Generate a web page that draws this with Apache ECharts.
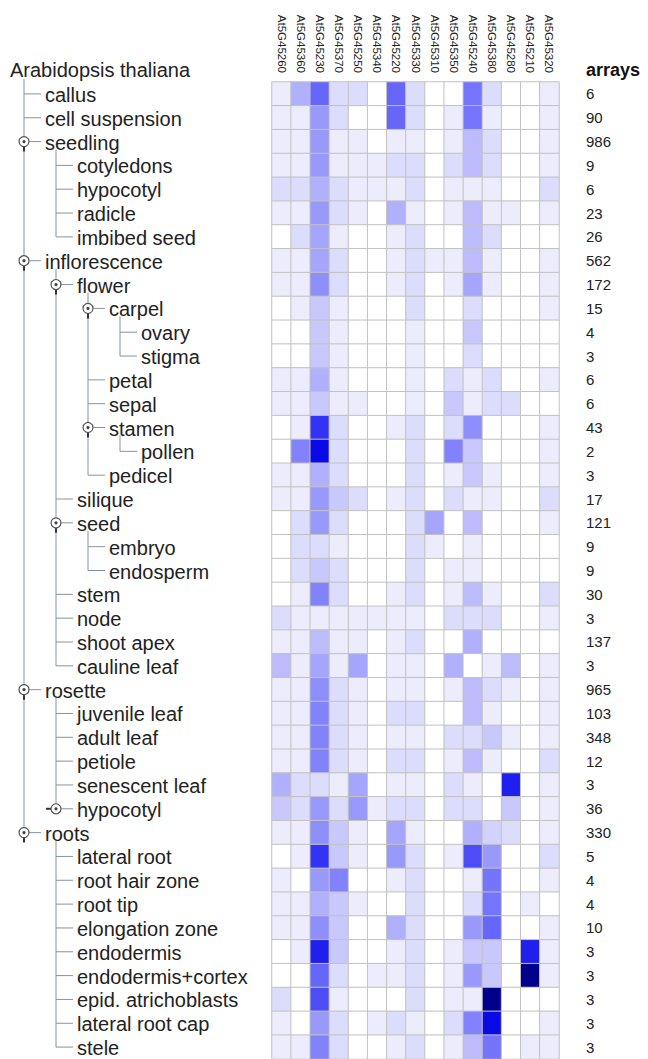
<!DOCTYPE html>
<html>
<head>
<meta charset="utf-8">
<script src="https://cdn.jsdelivr.net/npm/echarts@6/dist/echarts.min.js"></script>
<style>
html,body{margin:0;padding:0;background:#fff;}
#chart{width:648px;height:1059px;}
</style>
</head>
<body>
<div id="chart"></div>
<script>
const genes = ['At5G45260','At5G45360','At5G45230','At5G45370','At5G45250','At5G45340','At5G45220','At5G45330','At5G45310','At5G45350','At5G45240','At5G45380','At5G45280','At5G45210','At5G45320'];

const tissues = ['callus','cell suspension','seedling','cotyledons','hypocotyl','radicle','imbibed seed','inflorescence','flower','carpel','ovary','stigma','petal','sepal','stamen','pollen','pedicel','silique','seed','embryo','endosperm','stem','node','shoot apex','cauline leaf','rosette','juvenile leaf','adult leaf','petiole','senescent leaf','hypocotyl','roots','lateral root','root hair zone','root tip','elongation zone','endodermis','endodermis+cortex','epid. atrichoblasts','lateral root cap','stele'];

const depths = [1,1,1,2,2,2,2,1,2,3,4,4,3,3,3,4,3,2,2,3,3,2,2,2,2,1,2,2,2,2,2,1,2,2,2,2,2,2,2,2,2];

// 1 = expanded node icon, 2 = collapsed node icon
const nodeIcons = [0,0,1,0,0,0,0,1,1,1,0,0,0,0,1,0,0,0,1,0,0,0,0,0,0,1,0,0,0,0,2,1,0,0,0,0,0,0,0,0,0];

const arrays = [6,90,986,9,6,23,26,562,172,15,4,3,6,6,43,2,3,17,121,9,9,30,3,137,3,965,103,348,12,3,36,330,5,4,4,10,3,3,3,3,3];

// relative expression level per tissue (rows) and gene (columns), 0 = none, 10 = highest
const levels = [
  [1,4,7,2,2,0,7,2,0,0,6.5,2,0,0,1],
  [1,1,5,2,0,0,7,2,0,1,6.5,1,0,0,1],
  [1,1,5,1,1,0,1,1,0,1,3.5,2,0,0,1],
  [1,1,5,1,1,1,2,2,0,2,3.5,2,0,0,1],
  [2,2,4,2,1,1,1,2,0,1,1,1,0,0,2],
  [1,1,5,2,1,0,4,1,0,1,3.5,1,1,0,1],
  [0,2,4.5,1,0,0,1,2,0,0,3.5,2,0,0,0],
  [1,1,4.5,2,0,0,1,2,1,1,3.5,1,0,0,1],
  [1,1,5.5,2,0,0,1,2,0,1,4.5,1,0,0,1],
  [0,1,3,1,0,0,0,2,0,0,2,0,0,0,1],
  [0,0,3,1,0,0,0,1,0,0,3,0,0,0,0],
  [0,0,3,1,0,0,0,1,0,0,2,0,0,0,0],
  [1,1,4,1,0,0,0,1,0,2,1,2,0,0,1],
  [1,1,3,1,1,0,0,1,0,3,1,2,2,0,0],
  [0,1,8,2,0,0,1,2,0,2,5.5,0,0,0,1],
  [0,6,9,2,0,0,0,2,0,6,3,0,0,0,1],
  [1,1,4,2,0,0,0,2,0,1,3,1,0,0,1],
  [1,1,5,3,2,0,1,2,0,2,1,1,0,0,2],
  [0,2,5,2,0,0,0,2,4.5,0,3.5,0,0,0,1],
  [0,2,2,1,0,0,0,2,1,0,1,0,0,0,0],
  [0,2,3,2,0,0,0,2,0,1,1,0,0,0,0],
  [0,1,6,2,0,0,1,2,0,1,3.5,1,0,0,2],
  [2,1,1,1,1,1,1,1,0,2,2,2,0,0,1],
  [1,1,3.5,1,1,0,1,2,0,0,4,0,0,0,0],
  [3.5,1,4.5,1,4.5,0,1,1,0,4,0,1,3.5,0,1],
  [1,1,5.5,2,1,0,1,1,0,1,3.5,2,1,0,1],
  [1,1,6,2,1,0,2,2,0,0,3.5,1,0,0,1],
  [1,1,6,2,1,0,1,1,0,2,2,3,1,0,1],
  [1,1,6,2,1,0,2,2,0,1,3.5,1,0,0,2],
  [4,2,2,1,4.5,0,1,1,0,2,1,0,8.5,0,1],
  [3,2,5,2,5,1,2,2,0,2,2,0,3,0,1],
  [1,1,5.5,3,1,0,4.5,1,0,0,4,2.5,2,0,1],
  [0,1,8,3,1,0,5,2,0,1,7.5,5,0,0,2],
  [1,0,5,6,0,0,1,2,0,0,1,6.5,0,0,1],
  [1,1,4,3,1,0,0,2,0,0,2,6.5,0,1,0],
  [1,1,5.5,3,0,0,4,2,0,0,5,7,0,0,1],
  [0,1,8.5,3,0,0,1,2,0,1,3,3,0,8.5,1],
  [0,0,7,2,0,1,1,2,0,1,5,3,0,10,1],
  [2,0,7.5,1,0,0,0,2,0,1,1,10,0,0,0],
  [1,0,5,2,0,1,2,1,0,2,6,9,0,0,1],
  [1,1,6,2,0,0,1,2,0,1,3.5,6.5,0,1,1]
];

const rootName = 'Arabidopsis thaliana';
const arraysHeader = 'arrays';

const heatData = [];
levels.forEach((row, r) => row.forEach((v, c) => heatData.push([c, r, v])));

const FONT = '"Liberation Sans", Arial, sans-serif';
const LINE = '#8593a1';

function lineX(d) { return 24 + (d - 1) * 32; }

function renderTree(params, api) {
  const i = params.dataIndex;
  const d = depths[i];
  const y = api.coord([0, i])[1];
  const h = api.size([0, 1])[1];
  const x = lineX(d);
  const els = [];
  if (i === 0) {
    let last = 0;
    depths.forEach((dd, j) => { if (dd === 1) last = j; });
    els.push({type:'line', shape:{x1:x, y1:y - h / 2 - 3, x2:x, y2:api.coord([0, last])[1]}, style:{stroke:LINE, lineWidth:1}});
  }
  if (nodeIcons[i] === 1) {
    let last = i;
    for (let j = i + 1; j < depths.length && depths[j] > d; j++) {
      if (depths[j] === d + 1) last = j;
    }
    els.push({type:'line', shape:{x1:lineX(d + 1), y1:y + h / 2 - 4, x2:lineX(d + 1), y2:api.coord([0, last])[1]}, style:{stroke:LINE, lineWidth:1}});
  }
  els.push({type:'line', shape:{x1:x, y1:y, x2:x + 17, y2:y}, style:{stroke:LINE, lineWidth:1}});
  if (nodeIcons[i] === 1) {
    els.push({type:'line', shape:{x1:x, y1:y + 4, x2:x, y2:y + 10}, style:{stroke:'#333', lineWidth:2}});
  }
  if (nodeIcons[i] === 2) {
    els.push({type:'line', shape:{x1:x - 10, y1:y, x2:x - 4, y2:y}, style:{stroke:'#333', lineWidth:2}});
  }
  if (nodeIcons[i]) {
    els.push({type:'circle', shape:{cx:x, cy:y, r:5}, style:{fill:'#fff', stroke:'#555', lineWidth:1.2}});
    els.push({type:'circle', shape:{cx:x, cy:y, r:1.6}, style:{fill:'#444'}});
  }
  els.push({type:'text', x:x + 21, y:y + 1, style:{text:tissues[i], font:'20px ' + FONT, fill:'#222', textVerticalAlign:'middle', textAlign:'left'}});
  return {type:'group', children:els};
}

const chart = echarts.init(document.getElementById('chart'), null, {renderer:'svg'});
chart.setOption({
  animation:false,
  backgroundColor:'#fff',
  grid:{left:272, top:82, width:287, height:980, containLabel:false},
  xAxis:{
    type:'category', data:genes, position:'top',
    axisLine:{show:false}, axisTick:{show:false}, splitLine:{show:false},
    axisLabel:{rotate:90, interval:0, margin:9, fontSize:11.5, color:'#222', fontFamily:FONT}
  },
  yAxis:[
    {type:'category', data:tissues, inverse:true,
     axisLine:{show:false}, axisTick:{show:false}, splitLine:{show:false}, axisLabel:{show:false}},
    {type:'category', data:tissues, inverse:true, position:'right',
     axisLine:{show:false}, axisTick:{show:false}, splitLine:{show:false},
     axisLabel:{interval:0, margin:27, fontSize:15, color:'#222', fontFamily:FONT, align:'left',
       formatter:(v, idx) => String(arrays[idx])}}
  ],
  visualMap:{
    show:false, min:0, max:10, dimension:2, seriesIndex:0,
    inRange:{color:['#ffffff','#ececfd','#dcdcfd','#c8c8fd','#b0b0fd','#9999fc','#8282fc','#6666fb','#3333f5','#0a0ae6','#00008c']}
  },
  graphic:[
    {type:'text', left:10, top:60, style:{text:rootName, font:'20px ' + FONT, fill:'#222'}},
    {type:'text', left:586, top:61, style:{text:arraysHeader, font:'bold 18px ' + FONT, fill:'#111'}}
  ],
  series:[
    {type:'heatmap', data:heatData, xAxisIndex:0, yAxisIndex:0,
     itemStyle:{borderColor:'#c2c2c2', borderWidth:1}, emphasis:{disabled:true}, silent:true},
    {type:'custom', coordinateSystem:'cartesian2d', xAxisIndex:0, yAxisIndex:0, clip:false, silent:true,
     renderItem:renderTree, data:tissues.map((t, i) => [0, i]), encode:{x:0, y:1}}
  ]
});
</script>
</body>
</html>
